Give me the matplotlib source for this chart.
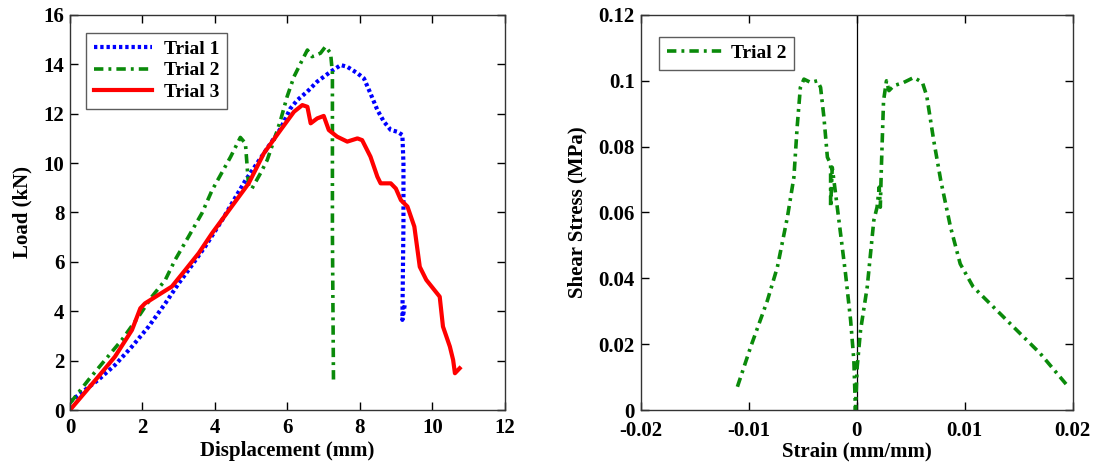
"""Load-displacement and shear stress-strain curves for three trials."""

import matplotlib

matplotlib.use("Agg")
import matplotlib.pyplot as plt

# Trial 1 load-displacement (blue, dotted)
trial1_disp = [0, 0.41, 0.78, 1.24, 1.71, 2.17, 2.63, 3.0, 3.27, 3.73, 4.2, 4.84, 5.35, 5.81,
               6.08, 6.27, 6.55, 6.82, 7.19, 7.47, 7.65, 7.93, 8.11, 8.29, 8.48, 8.66, 8.85,
               9.03, 9.17, 9.2, 9.2, 9.17, 9.24]
trial1_load = [0.34, 0.81, 1.22, 1.82, 2.57, 3.38, 4.32, 5.13, 5.67, 6.62, 7.7, 9.3, 10.4, 11.4,
               12.21, 12.55, 12.9, 13.3, 13.7, 13.97, 13.9, 13.64, 13.43, 12.82, 12.15, 11.68,
               11.34, 11.27, 11.14, 9.99, 7.56, 3.65, 4.3]

# Trial 2 load-displacement (green, dash-dot)
trial2_disp = [0, 0.51, 0.97, 1.43, 1.89, 2.26, 2.63, 2.9, 3.27, 3.64, 3.92, 4.43, 4.7, 4.84,
               4.93, 5.02, 5.26, 5.44, 5.63, 5.81, 5.99, 6.18, 6.41, 6.55, 6.68, 6.91, 7.05,
               7.19, 7.24, 7.24, 7.27]
trial2_load = [0.27, 1.22, 2.03, 2.84, 3.78, 4.59, 5.27, 6.08, 7.02, 7.97, 8.9, 10.25, 11.04,
               10.8, 9.03, 8.97, 9.6, 10.12, 10.93, 11.74, 12.69, 13.5, 14.18, 14.58, 14.31,
               14.45, 14.72, 14.45, 13.64, 7.16, 1.08]

# Trial 3 load-displacement (red, solid)
trial3_disp = [0, 0.78, 1.24, 1.71, 1.94, 2.07, 2.44, 2.81, 3.18, 3.55, 3.92, 4.29, 4.66, 4.93,
               5.35, 5.81, 6.18, 6.41, 6.55, 6.64, 6.82, 7.0, 7.14, 7.37, 7.65, 7.93, 8.06,
               8.29, 8.48, 8.57, 8.85, 8.99, 9.13, 9.31, 9.5, 9.65, 9.83, 10.2, 10.29, 10.48,
               10.57, 10.62, 10.75]
trial3_load = [0, 1.35, 2.16, 3.24, 4.12, 4.32, 4.66, 5.0, 5.67, 6.35, 7.16, 7.9, 8.64, 9.18,
               10.4, 11.34, 12.08, 12.35, 12.28, 11.61, 11.81, 11.91, 11.34, 11.07, 10.87, 11.0,
               10.93, 10.26, 9.45, 9.18, 9.18, 8.97, 8.5, 8.24, 7.43, 5.8, 5.27, 4.59, 3.38,
               2.57, 2.03, 1.49, 1.69]

# Trial 2 shear stress-strain
trial2_strain = [-0.01103, -0.0098, -0.00825, -0.00733, -0.0064, -0.0058, -0.0055, -0.0052,
                 -0.00487, -0.00425, -0.00363, -0.00333, -0.00302, -0.0027, -0.0024, -0.0024,
                 -0.00225, -0.00194, -0.00148, -0.00102, -0.00055, -0.00025, -0.0001,
                 0.00006, 0.00037, 0.00099, 0.0016, 0.0019, 0.0021, 0.0022, 0.0023, 0.0024,
                 0.0025, 0.00277, 0.0030, 0.00345, 0.00437, 0.0053, 0.0061, 0.0065, 0.00715,
                 0.0078, 0.0087, 0.0096, 0.0108, 0.0139, 0.017, 0.0196]
trial2_stress = [0.00707, 0.0192, 0.0333, 0.0434, 0.0586, 0.0707, 0.0859, 0.098, 0.1005,
                 0.0995, 0.1, 0.098, 0.0889, 0.0768, 0.0747, 0.0616, 0.0737, 0.0657, 0.0536,
                 0.0414, 0.0273, 0.0152, 0.0, 0.0131, 0.0242, 0.0374, 0.0576, 0.0616, 0.0677,
                 0.0616, 0.0737, 0.0838, 0.0939, 0.1, 0.097, 0.0985, 0.0995, 0.101, 0.0995,
                 0.0954, 0.0818, 0.0697, 0.0556, 0.0444, 0.0374, 0.0273, 0.0172, 0.0071]

FONT = "Liberation Serif"
GREEN = "#0a8a0a"
DOTTED = (0, (0.8, 0.7))
DASHDOT = (0, (2.6, 1.4, 0.8, 1.4))


def style_axes(ax, xpad=6):
    """MATLAB-like boxed axes with inward ticks on all sides."""
    for spine in ax.spines.values():
        spine.set_color("#333333")
        spine.set_linewidth(1.0)
    ax.tick_params(direction="in", top=True, right=True, length=6, width=1,
                   labelsize=15, pad=4)
    ax.tick_params(axis="x", pad=xpad)
    for label in ax.get_xticklabels() + ax.get_yticklabels():
        label.set_fontfamily(FONT)
        label.set_fontweight("bold")


def main():
    plt.rcParams["font.family"] = FONT
    plt.rcParams["font.weight"] = "bold"
    fig = plt.figure(figsize=(10.97, 4.67), dpi=100)

    ax1 = fig.add_axes([0.0638, 0.122, 0.3965, 0.846])
    ax1.plot(trial1_disp, trial1_load, color="#0000ff", linestyle=DOTTED, linewidth=3,
             label="Trial 1")
    ax1.plot(trial2_disp, trial2_load, color=GREEN, linestyle=DASHDOT, linewidth=2.6,
             label="Trial 2")
    ax1.plot(trial3_disp, trial3_load, color="#ff0000", linestyle="-", linewidth=3,
             label="Trial 3")
    ax1.set_xlim(0, 12)
    ax1.set_ylim(0, 16)
    ax1.set_xticks(range(0, 13, 2))
    ax1.set_yticks(range(0, 17, 2))
    ax1.set_xlabel("Displacement (mm)", fontsize=15, fontweight="bold", labelpad=2)
    ax1.set_ylabel("Load (kN)", fontsize=15, fontweight="bold", labelpad=8)
    style_axes(ax1)
    leg1 = ax1.legend(loc="upper left", fontsize=14, frameon=True, fancybox=False,
                      edgecolor="#333333", handlelength=3.0, borderpad=0.4,
                      labelspacing=0.2, handletextpad=0.6,
                      bbox_to_anchor=(0.015, 0.98))
    leg1.get_frame().set_linewidth(1.0)

    ax2 = fig.add_axes([0.5839, 0.122, 0.3938, 0.846])
    ax2.axvline(0, color="black", linewidth=0.9)
    ax2.plot(trial2_strain, trial2_stress, color=GREEN, linestyle=DASHDOT, linewidth=2.6,
             label="Trial 2")
    ax2.set_xlim(-0.02, 0.02)
    ax2.set_ylim(0, 0.12)
    ax2.set_xticks([-0.02, -0.01, 0, 0.01, 0.02])
    ax2.set_xticklabels(["-0.02", "-0.01", "0", "0.01", "0.02"])
    ax2.set_yticks([0, 0.02, 0.04, 0.06, 0.08, 0.1, 0.12])
    ax2.set_yticklabels(["0", "0.02", "0.04", "0.06", "0.08", "0.1", "0.12"])
    ax2.set_xlabel("Strain (mm/mm)", fontsize=15, fontweight="bold", labelpad=0)
    ax2.set_ylabel("Shear Stress (MPa)", fontsize=15, fontweight="bold", labelpad=8)
    style_axes(ax2, xpad=8)
    leg2 = ax2.legend(loc="upper left", fontsize=14, frameon=True, fancybox=False,
                      edgecolor="#333333", handlelength=3.0, borderpad=0.4,
                      handletextpad=0.3, bbox_to_anchor=(0.02, 0.97))
    leg2.get_frame().set_linewidth(1.0)

    fig.savefig("out.png", dpi=100)
    plt.close(fig)


if __name__ == "__main__":
    main()
